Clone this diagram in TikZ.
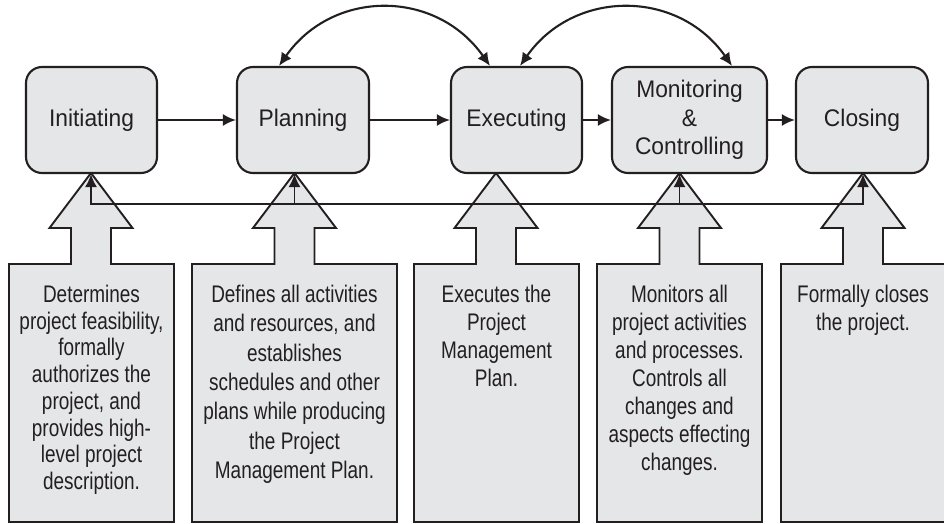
\documentclass[tikz,border=0pt]{standalone}
\usepackage{fontspec}
\setmainfont{Liberation Sans}
\newfontfamily\topfont{Liberation Sans}[FakeStretch=0.95]
\newfontfamily\condfont{Liberation Sans}[FakeStretch=0.79]
\usetikzlibrary{arrows.meta,calc}
\definecolor{ink}{HTML}{231F20}
\definecolor{boxgray}{HTML}{E5E6E8}
\tikzset{
  stage/.style={draw=ink, fill=boxgray, line width=2.1pt, rounded corners=16pt,
    minimum height=106pt, inner sep=2pt, align=center,
    font=\topfont\fontsize{24}{28.4}\selectfont, text=ink},
  arr/.style={draw=ink, line width=2.1pt, -{Latex[length=13pt,width=12pt]}},
  dblarr/.style={draw=ink, line width=2.1pt, {Latex[length=13pt,width=12pt]}-{Latex[length=13pt,width=12pt]}},
  panel/.style={draw=ink, fill=boxgray, line width=1.9pt, line join=miter},
  desc/.style={anchor=north, inner sep=0pt, align=center, text=ink},
  lead/.style={font=\condfont\fontsize{24}{#1}\selectfont}
}
\newcommand\panelpath[3]{% left, right, arrow x
  \path[panel] (#1,264) -- ({#3-20},264) -- ({#3-20},228) -- ({#3-41.5},228)
    -- (#3,173) -- ({#3+41.5},228) -- ({#3+20},228) -- ({#3+20},264)
    -- (#2,264) -- (#2,522) -- (#1,522) -- cycle;}
\begin{document}
\begin{tikzpicture}[x=1pt,y=-1pt]
\useasboundingbox (0,0) rectangle (944,524);
\clip (0,0) rectangle (944,524);
\fill[white] (0,0) rectangle (944,524);
% panels with block arrows
\panelpath{9}{174}{91}
\panelpath{192}{397}{294.5}
\panelpath{414}{579}{496}
\panelpath{597}{762}{679.5}
\panelpath{781}{960}{863}
% descriptions
\node[desc, lead=26.7] (d1) at (91.5,285) {Determines\\project feasibility,\\formally\\authorizes the\\project, and\\provides high-\\level project\\description.};
\node[desc, lead=29.3] (d2) at (294.5,285) {Defines all activities\\and resources, and\\establishes\\schedules and other\\plans while producing\\the Project\\Management Plan.};
\node[desc, lead=28] (d3) at (496.5,285) {Executes the\\Project\\Management\\Plan.};
\node[desc, lead=28] (d4) at (679.5,285) {Monitors all\\project activities\\and processes.\\Controls all\\changes and\\aspects effecting\\changes.};
\node[desc, lead=28] (d5) at (863,285) {Formally closes\\the project.};
% stages
\node[stage, minimum width=131pt] (ini) at (91.5,120) {Initiating};
\node[stage, minimum width=132pt] (pla) at (303,120) {Planning};
\node[stage, minimum width=131pt] (exe) at (516.5,120) {Executing};
\node[stage, minimum width=155pt] (mon) at (689.5,120) {Monitoring\\\&\\Controlling};
\node[stage, minimum width=132pt] (clo) at (862,120) {Closing};
% forward arrows
\draw[arr] (ini) -- (pla);
\draw[arr] (pla) -- (exe);
\draw[arr] (exe) -- (mon);
\draw[arr] (mon) -- (clo);
% loops on top
\coordinate (p1) at (279,0 |- pla.north);
\coordinate (e1) at (490,0 |- exe.north);
\coordinate (e2) at (520,0 |- exe.north);
\coordinate (m1) at (732,0 |- mon.north);
\draw[dblarr] (p1) .. controls ($(p1)+(54,-77)$) and ($(e1)+(-54,-77)$) .. (e1);
\draw[dblarr] (e2) .. controls ($(e2)+(54,-77)$) and ($(m1)+(-54,-77)$) .. (m1);
% feedback line
\coordinate (fb) at (0,204);
\draw[dblarr, line width=1.9pt] (91,0 |- ini.south) -- (91,0 |- fb) -| (863,0 |- clo.south);
\draw[arr, line width=1.9pt] (294.5,204) -- (294.5,0 |- pla.south);
\draw[arr, line width=1.9pt] (679.5,204) -- (679.5,0 |- mon.south);
\end{tikzpicture}
\end{document}
